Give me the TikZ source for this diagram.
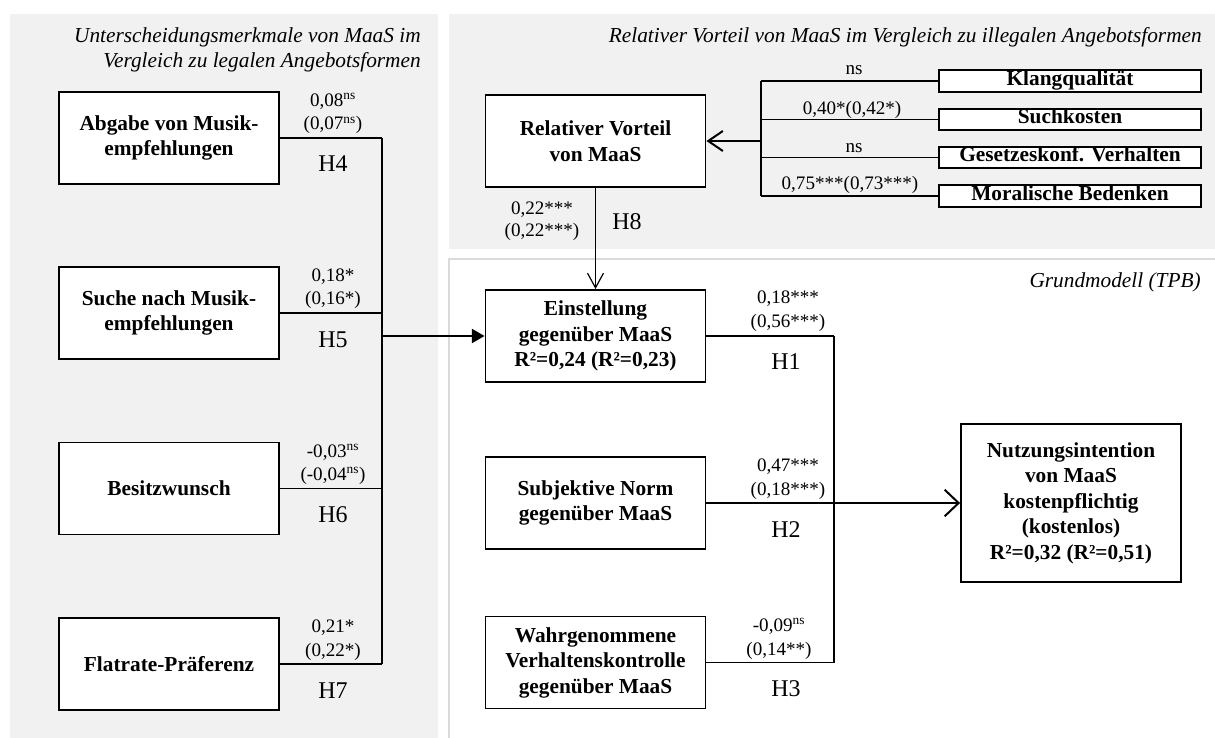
\documentclass[tikz,border=0pt]{standalone}
\usepackage{fontspec}
\setmainfont{Liberation Serif}
\usetikzlibrary{arrows.meta}
\definecolor{panelgray}{RGB}{241,241,241}
\definecolor{paneledge}{RGB}{218,218,218}
\newcommand\bxfont{\bfseries\fontsize{16}{19.1}\selectfont}
\newcommand\lbfont{\fontsize{14.3}{17.6}\selectfont}
\newcommand\hyfont{\fontsize{18}{20}\selectfont}
\newcommand\ttlfont{\itshape\fontsize{16}{18.75}\selectfont}
\newcommand\nsup{\textsuperscript{ns}}
\begin{document}
\begin{tikzpicture}[x=0.75pt,y=-0.75pt,
  bigbox/.style={draw, line width=1.4pt, fill=white, align=center, font=\bxfont,
    minimum width=165pt, minimum height=69pt, inner sep=0pt},
  smallbox/.style={draw, line width=1.3pt, fill=white, font=\bxfont,
    minimum width=196.5pt, minimum height=16pt, inner sep=0pt,
    text height=0.75em, text depth=0.1em},
  lab/.style={font=\lbfont, inner sep=0pt, anchor=base},
  hyp/.style={font=\hyfont, inner sep=0pt, anchor=base},
  ttl/.style={font=\ttlfont, inner sep=0pt, anchor=base east},
  conn/.style={line width=1pt},
  bus/.style={line width=1.6pt},
  mainfill/.style={line width=1.5pt, -{Triangle[length=9.5pt,width=10.5pt]}},
  mainopen/.style={line width=1.5pt, -{Straight Barb[length=11pt,width=15pt]}},
  bigopen/.style={line width=1.5pt, -{Straight Barb[length=10.5pt,width=20pt]}},
  thinopen/.style={line width=0.9pt, -{Straight Barb[length=11pt,width=12pt]}}
]
\useasboundingbox (0,0) rectangle (1215,738);
% panels
\fill[panelgray] (10,14) rectangle (438,738);
\fill[panelgray] (449,14) rectangle (1215,249);
\draw[draw=paneledge, line width=0.8pt, fill=white] (449,259) rectangle (1222,746);

% titles
\node[ttl] (tl1) at (421,43) {Unterscheidungsmerkmale von MaaS im};
\node[ttl] (tl2) at (421,68) {Vergleich zu legalen Angebotsformen};
\node[ttl] (tr) at (1202,43) {Relativer Vorteil von MaaS im Vergleich zu illegalen Angebotsformen};
\node[ttl] (tg) at (1201,288) {Grundmodell (TPB)};

% left boxes
\node[bigbox] (abg) at (169,138) {Abgabe von Musik-\\empfehlungen};
\node[bigbox] (such) at (169,313) {Suche nach Musik-\\empfehlungen};
\node[bigbox] (besitz) at (169,488.5) {Besitzwunsch};
\node[bigbox] (flat) at (169,664) {Flatrate-Präferenz};

% middle boxes
\node[bigbox] (rel) at (595.5,141) {Relativer Vorteil\\von MaaS};
\node[bigbox] (einst) at (595.5,336) {Einstellung\\gegenüber MaaS\\R²=0,24 (R²=0,23)};
\node[bigbox] (subj) at (595.5,503) {Subjektive Norm\\gegenüber MaaS};
\node[bigbox] (wahr) at (595.5,662.5) {Wahrgenommene\\Verhaltenskontrolle\\gegenüber MaaS};
\node[bigbox, minimum height=119pt] (nutz) at (1071,503) {Nutzungsintention\\von MaaS\\kostenpflichtig\\(kostenlos)\\R²=0,32 (R²=0,51)};

% small boxes
\node[smallbox] (klang) at (1070,81) {Klangqualität};
\node[smallbox] (sk) at (1070,119.5) {Suchkosten};
\node[smallbox] (gk) at (1070,157.5) {Gesetzeskonf. Verhalten};
\node[smallbox] (mb) at (1070,196) {Moralische Bedenken};

% bus coordinates
\coordinate (bL) at (382,336);
\coordinate (bR) at (834,503);
\coordinate (bT) at (761,141);

% left connectors
\draw[conn] (abg.east) -- (abg.east -| bL);
\draw[conn] (such.east) -- (such.east -| bL);
\draw[conn] (besitz.east) -- (besitz.east -| bL);
\draw[conn] (flat.east) -- (flat.east -| bL);
\draw[bus] (abg.east -| bL) -- (flat.east -| bL);
\draw[mainfill] (bL) -- (einst.west);

% right connectors
\draw[conn] (einst.east) -- (einst.east -| bR);
\draw[conn] (subj.east) -- (bR);
\draw[conn] (wahr.east) -- (wahr.east -| bR);
\draw[line width=1.2pt] (einst.east -| bR) -- (wahr.east -| bR);
\draw[bigopen] (bR) -- (nutz.west);

% top connectors
\draw[conn] (klang.west) -- (klang.west -| bT);
\draw[conn] (sk.west) -- (sk.west -| bT);
\draw[conn] (gk.west) -- (gk.west -| bT);
\draw[conn] (mb.west) -- (mb.west -| bT);
\draw[conn] (klang.west -| bT) -- (mb.west -| bT);
\draw[mainopen] (bT) -- (rel.east);

% H8
\draw[thinopen] (rel.south) -- (einst.north);

% labels left
\node[lab] (a1) at (333,106.5) {0,08\nsup};
\node[lab] (a2) at (333,130) {(0,07\nsup)};
\node[hyp] (h4) at (333,172) {H4};
\node[lab] (b1) at (333,281.5) {0,18*};
\node[lab] (b2) at (333,305) {(0,16*)};
\node[hyp] (h5) at (333,347) {H5};
\node[lab] (c1) at (333,457) {-0,03\nsup};
\node[lab] (c2) at (333,480.5) {(-0,04\nsup)};
\node[hyp] (h6) at (333,522.5) {H6};
\node[lab] (d1) at (333,632.5) {0,21*};
\node[lab] (d2) at (333,656) {(0,22*)};
\node[hyp] (h7) at (333,698) {H7};

% labels right
\node[lab] (e1) at (788,304) {0,18***};
\node[lab] (e2) at (788,328) {(0,56***)};
\node[hyp] (h1) at (786,369) {H1};
\node[lab] (f1) at (788,471) {0,47***};
\node[lab] (f2) at (788,495) {(0,18***)};
\node[hyp] (h2) at (786,537) {H2};
\node[lab] (g1) at (779,631) {-0,09\nsup};
\node[lab] (g2) at (779,655) {(0,14**)};
\node[hyp] (h3) at (786,696) {H3};

% H8 labels
\node[lab] (k1) at (542,215) {0,22***};
\node[lab] (k2) at (542,237) {(0,22***)};
\node[hyp] (h8) at (627,230) {H8};

% top labels
\node[lab] (t1) at (854,75) {ns};
\node[lab] (t2) at (852,114.5) {0,40*(0,42*)};
\node[lab] (t3) at (854,153) {ns};
\node[lab] (t4) at (850,190) {0,75***(0,73***)};
\end{tikzpicture}
\end{document}
